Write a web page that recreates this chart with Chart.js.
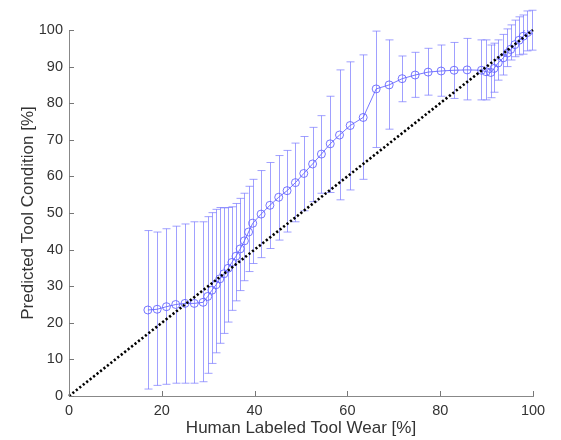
<!DOCTYPE html>
<html>
<head>
<meta charset="utf-8">
<script src="https://cdn.jsdelivr.net/npm/chart.js@4/dist/chart.umd.min.js"></script>
<style>
  html, body { margin: 0; padding: 0; background: #fff; }
  #wrap { width: 561px; height: 440px; }
</style>
</head>
<body>
<div id="wrap"><canvas id="wearChart"></canvas></div>
<script>
// data
const toolWear = [17, 19, 21, 23, 25, 27, 28.9, 29.9, 30.8, 31.7, 32.5, 33.4, 34.3, 35.1, 36.0, 36.9, 37.8, 38.7, 39.6,
  41.4, 43.3, 45.2, 47.0, 48.8, 50.6, 52.5, 54.4, 56.3, 58.3, 60.6, 63.4, 66.2, 69.0, 71.8, 74.6, 77.4, 80.2, 83.0, 85.8,
  88.9, 89.9, 90.9, 91.6, 92.5, 93.6, 94.5, 95.2, 96.1, 97.0, 97.9, 98.8, 99.7];
const predMean = [23.5, 23.7, 24.4, 25.0, 25.3, 25.3, 25.6, 27.2, 28.9, 30.4, 32.0, 33.4, 34.9, 36.5, 38.2, 40.2, 42.4, 44.8, 47.2,
  49.7, 52.1, 54.3, 56.1, 58.3, 60.8, 63.4, 66.1, 68.9, 71.3, 73.9, 76.1, 83.9, 85.0, 86.7, 87.7, 88.5, 88.8, 89.0, 89.1,
  89.0, 88.6, 88.4, 89.5, 91.0, 92.4, 93.7, 94.7, 96.0, 97.2, 98.3, 99.3, 100.0];
const predLow = [1.9, 2.9, 3.2, 3.5, 3.5, 3.5, 3.9, 6.2, 8.9, 11.8, 14.4, 17.1, 20.2, 23.4, 26.0, 28.8, 31.5, 34.0, 36.2,
  37.8, 40.3, 42.6, 44.8, 47.6, 50.6, 53.1, 55.4, 55.6, 53.6, 56.3, 59.2, 67.9, 72.9, 80.4, 81.6, 82.2, 81.9, 81.3, 80.9,
  80.9, 80.9, 81.5, 83.0, 86.3, 87.7, 90.0, 91.8, 92.7, 93.2, 93.4, 94.3, 94.5];
const predHigh = [45.2, 44.8, 45.7, 46.4, 47.0, 47.6, 47.6, 49.0, 50.1, 51.0, 51.5, 51.4, 51.5, 51.7, 52.6, 54.0, 55.4, 57.3, 59.2,
  61.6, 63.8, 65.7, 67.1, 69.1, 70.9, 73.4, 76.6, 81.9, 89.1, 91.3, 93.2, 99.7, 97.3, 92.9, 93.9, 95.0, 95.9, 96.6, 97.7,
  97.3, 97.3, 95.9, 96.4, 97.3, 98.8, 100.3, 101.4, 102.7, 103.6, 104.1, 105.2, 105.4];
const idealX = [0, 100];
const idealY = [0, 100];
const xTicks = [0, 20, 40, 60, 80, 100];
const yTicks = [0, 10, 20, 30, 40, 50, 60, 70, 80, 90, 100];

const barColor = 'rgba(120, 120, 255, 0.7)';
const pointColor = 'rgba(95, 95, 255, 0.85)';

// vertical error bars, drawn through the scales
const errorBars = {
  id: 'errorBars',
  beforeDatasetsDraw(chart) {
    const ctx = chart.ctx;
    const xs = chart.scales.x, ys = chart.scales.y;
    ctx.save();
    ctx.strokeStyle = barColor;
    ctx.lineWidth = 1;
    toolWear.forEach((w, i) => {
      const px = Math.round(xs.getPixelForValue(w)) + 0.5;
      const top = ys.getPixelForValue(predHigh[i]);
      const bot = ys.getPixelForValue(predLow[i]);
      ctx.beginPath();
      ctx.moveTo(px, top); ctx.lineTo(px, bot);
      ctx.moveTo(px - 4, top); ctx.lineTo(px + 4, top);
      ctx.moveTo(px - 4, bot); ctx.lineTo(px + 4, bot);
      ctx.stroke();
    });
    ctx.restore();
  }
};

// small tick marks pointing into the plot
const innerTicks = {
  id: 'innerTicks',
  afterDraw(chart) {
    const ctx = chart.ctx;
    const xs = chart.scales.x, ys = chart.scales.y;
    const a = chart.chartArea;
    ctx.save();
    ctx.strokeStyle = '#777';
    ctx.lineWidth = 1;
    ctx.beginPath();
    xTicks.forEach(t => {
      const px = Math.round(xs.getPixelForValue(t)) + 0.5;
      ctx.moveTo(px, a.bottom); ctx.lineTo(px, a.bottom - 5);
    });
    yTicks.forEach(t => {
      const py = Math.round(ys.getPixelForValue(t)) + 0.5;
      ctx.moveTo(a.left, py); ctx.lineTo(a.left + 5, py);
    });
    ctx.stroke();
    ctx.restore();
  }
};

const ctx = document.getElementById('wearChart').getContext('2d');
const wearChart = new Chart(ctx, {
  type: 'scatter',
  data: {
    datasets: [
      {
        label: 'Ideal',
        data: idealX.map((x, i) => ({ x: x, y: idealY[i] })),
        showLine: true,
        borderColor: '#000',
        borderWidth: 2.6,
        borderDash: [2.2, 2.2],
        pointRadius: 0,
        clip: false,
        order: 0
      },
      {
        label: 'Prediction',
        data: toolWear.map((x, i) => ({ x: x, y: predMean[i] })),
        showLine: true,
        borderColor: pointColor,
        borderWidth: 1,
        pointRadius: 4,
        pointBorderWidth: 1,
        pointBorderColor: pointColor,
        pointBackgroundColor: 'rgba(0,0,0,0)',
        order: 1
      }
    ]
  },
  options: {
    responsive: true,
    maintainAspectRatio: false,
    animation: false,
    layout: { padding: { left: 18, right: 28, top: 30, bottom: 1 } },
    plugins: {
      legend: { display: false },
      tooltip: { enabled: false }
    },
    scales: {
      x: {
        type: 'linear',
        min: 0,
        max: 100,
        afterBuildTicks: s => { s.ticks = xTicks.map(v => ({ value: v })); },
        afterFit: s => { s.height = 43; },
        border: { color: '#888', width: 1 },
        grid: { display: false, drawTicks: false },
        ticks: { color: '#333', padding: 6, font: { family: 'Liberation Sans', size: 14.5 }, maxRotation: 0 },
        title: { display: true, text: 'Human Labeled Tool Wear [%]', color: '#333', padding: { top: 2, bottom: 0 },
          font: { family: 'Liberation Sans', size: 17 } }
      },
      y: {
        type: 'linear',
        min: 0,
        max: 100,
        afterBuildTicks: s => { s.ticks = yTicks.map(v => ({ value: v })); },
        afterFit: s => { s.width = 51; },
        border: { color: '#888', width: 1 },
        grid: { display: false, drawTicks: false },
        ticks: { color: '#333', padding: 6, font: { family: 'Liberation Sans', size: 14.5 } },
        title: { display: true, text: 'Predicted Tool Condition [%]', color: '#333', padding: { top: 0, bottom: 4 },
          font: { family: 'Liberation Sans', size: 17 } }
      }
    }
  },
  plugins: [errorBars, innerTicks]
});
</script>
</body>
</html>
